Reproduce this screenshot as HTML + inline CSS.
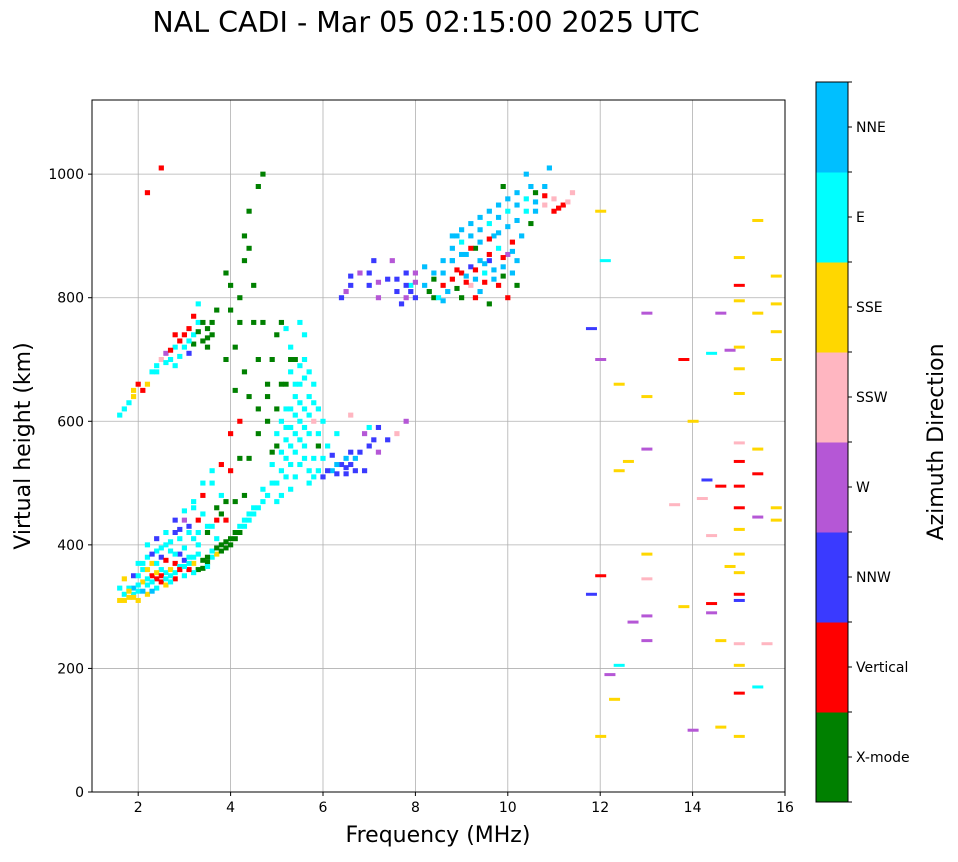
<!DOCTYPE html>
<html><head><meta charset="utf-8"><style>
body{margin:0;background:#fff;font-family:"Liberation Sans","DejaVu Sans",sans-serif}
svg text{font-family:"DejaVu Sans","Liberation Sans",sans-serif}
</style></head><body>
<svg id="c" width="958" height="857">
<text x="426" y="32" font-size="28.5" text-anchor="middle">NAL CADI - Mar 05 02:15:00 2025 UTC</text>
<g id="grid"></g><g id="marks"></g><g id="axes"></g><g id="cbar"></g>
</svg>
<script>
const dirNames=["X-mode","Vertical","NNW","W","SSW","SSE","E","NNE"];
const dirColors=["#008000","#ff0000","#3a3aff","#b557d6","#ffb6c1","#ffd700","#00ffff","#00bfff"];
const xTicks=[2,4,6,8,10,12,14,16];
const yTicks=[0,200,400,600,800,1000];
// dense cells [freq MHz, height km, direction index]
const cells=[
[1.6,310,5],[1.7,320,6],[1.8,315,5],[1.9,330,7],[2.0,325,6],[2.1,340,5],[2.2,335,6],[2.3,350,1],[2.4,345,1],[2.5,340,1],[2.6,355,6],[2.7,360,5],[2.8,370,1],[2.9,365,6],[3.0,375,2],[3.1,380,6],[3.2,370,5],[3.3,360,0],[3.4,362,0],[3.5,372,0],[3.6,380,6],[3.7,385,5],[3.8,390,0],[3.9,395,0],[4.0,400,0],[4.1,410,0],[4.2,420,0],[4.3,430,6],[4.4,440,6],[4.5,450,6],
[1.6,330,6],[1.7,345,5],[1.8,330,6],[1.9,350,2],[2.0,370,6],[2.1,360,6],[2.2,380,6],[2.3,370,5],[2.4,390,6],[2.5,380,2],[2.6,400,6],[2.7,390,6],[2.8,420,2],[2.9,410,6],[3.0,440,3],[3.1,420,6],[3.2,460,6],[3.3,440,1],[3.4,480,1],[3.5,430,6],[3.6,500,6],[3.7,460,0],[3.8,480,6],[3.9,440,1],[2.0,310,5],[2.2,320,5],[2.4,330,6],[2.6,335,5],[2.8,345,1],[3.0,350,6],[3.2,355,6],[1.9,320,6],[2.3,325,7],[2.7,340,6],[3.1,360,1],[3.5,365,6],[2.5,360,6],[2.9,385,2],[3.3,400,6],[3.7,410,6],[4.1,470,0],[4.3,480,0],[4.0,520,1],[4.2,540,0],
[1.7,310,5],[1.8,325,5],[1.9,315,5],[2.0,335,6],[2.1,325,7],[2.2,345,6],[2.3,340,6],[2.4,355,5],[2.5,350,1],[2.6,345,6],[2.7,350,6],[2.8,355,6],[2.9,360,1],[3.0,365,6],[3.1,370,6],[3.2,380,6],[3.3,385,6],[3.4,375,0],[3.5,380,0],[3.6,390,6],[3.7,395,0],[3.8,400,0],[3.9,405,0],[4.0,410,0],[4.1,420,0],[4.2,430,6],[4.3,440,6],[4.4,450,6],[4.5,460,6],
[2.0,350,6],[2.1,370,6],[2.2,360,5],[2.3,385,2],[2.4,370,6],[2.5,395,6],[2.6,375,1],[2.7,405,6],[2.8,385,6],[2.9,425,2],[3.0,395,6],[3.1,430,2],[3.2,410,6],[3.3,420,6],[3.4,450,6],[3.5,420,0],[3.6,430,6],[3.7,440,1],[3.8,450,0],[3.9,470,0],[2.2,400,6],[2.4,410,2],[2.6,420,6],[2.8,440,2],[3.0,455,6],[3.2,470,6],[3.4,500,6],[3.6,520,6],[3.8,530,1],
[4.6,460,6],[4.8,480,6],[5.0,500,6],[5.1,520,6],[5.2,540,6],[5.3,560,6],[5.4,580,6],[5.5,600,6],[5.6,620,6],[5.7,640,6],[5.5,660,6],[5.6,700,6],[5.3,620,6],[5.2,590,6],[5.0,560,0],[5.8,540,6],[5.9,520,6],[5.7,500,6],[5.4,510,6],[4.9,530,6],[5.1,480,6],[5.6,560,6],[5.5,530,6],[5.3,490,6],[4.7,470,6],[5.8,600,4],[5.9,580,6],[5.4,640,6],[5.2,660,0],[5.0,620,0],[4.8,600,0],[5.7,580,6],[5.6,740,6],[5.4,700,0],[5.1,760,0],[5.3,680,6],[5.9,560,0],
[4.7,490,6],[4.9,500,6],[5.0,470,6],[5.2,510,6],[5.3,530,6],[5.4,550,6],[5.5,570,6],[5.6,590,6],[5.7,610,6],[5.8,630,6],[5.5,630,6],[5.4,610,6],[5.3,590,6],[5.2,570,6],[5.1,550,6],[5.6,670,6],[5.7,680,6],[5.5,690,6],[5.8,660,6],[5.9,620,6],[6.0,600,6],[5.6,540,6],[5.7,520,6],[5.8,510,6],[6.0,540,6],[5.2,620,6],[5.1,600,6],[5.0,580,6],[5.4,660,6],[5.3,720,6],[5.5,760,6],[5.2,750,6],[4.9,550,0],[5.1,660,0],[5.3,700,0],[4.8,640,0],[4.9,700,0],[5.0,740,0],
[4.2,600,1],[4.4,640,0],[4.6,700,0],[4.7,760,0],[4.5,820,0],[4.3,900,0],[4.6,980,0],[4.4,940,0],[4.2,800,0],[4.1,720,0],[4.4,540,0],[4.6,580,0],[4.8,660,0],[4.0,780,0],[3.9,840,0],[4.7,1000,0],[4.3,860,0],[4.5,760,0],[4.1,650,0],[4.0,580,1],[4.3,680,0],[4.6,620,0],[4.2,760,0],[4.0,820,0],[4.4,880,0],
[1.6,610,6],[1.8,630,6],[1.9,650,5],[2.0,660,1],[2.1,650,1],[2.3,680,6],[2.4,690,6],[2.5,700,4],[2.6,710,3],[2.7,700,6],[2.8,720,6],[2.9,730,1],[3.0,720,6],[3.1,750,1],[3.2,740,6],[3.3,760,6],[3.4,730,0],[3.5,750,0],[3.6,740,0],[3.5,720,0],[3.3,790,6],[3.1,710,2],[2.8,690,6],[3.7,780,0],[3.9,700,0],[2.2,970,1],[2.5,1010,1],
[1.7,620,6],[1.9,640,5],[2.2,660,5],[2.4,680,6],[2.6,695,6],[2.7,715,1],[2.9,705,6],[3.0,740,1],[3.2,725,0],[3.3,745,0],[3.4,760,0],[3.5,735,0],[3.2,770,1],[3.1,730,6],[2.8,740,1],[3.6,760,0],
[6.0,510,2],[6.2,520,7],[6.4,530,2],[6.5,540,7],[6.6,530,2],[6.8,550,2],[7.0,560,2],[7.2,550,3],[7.4,570,2],[7.6,580,4],[7.8,600,3],[6.3,580,6],[6.6,610,4],[7.0,590,6],[6.2,545,2],[6.9,520,2],[7.2,590,2],[6.1,560,6],
[6.1,520,2],[6.3,515,2],[6.5,525,2],[6.7,540,7],[6.6,550,2],[6.5,515,2],[6.7,520,2],[6.3,530,7],[7.1,570,2],[6.9,580,3],
[6.4,800,2],[6.6,820,2],[6.8,840,3],[7.0,820,2],[7.2,800,3],[7.4,830,2],[7.6,810,2],[7.8,800,3],[7.9,820,6],[8.0,840,3],[7.7,790,2],[7.5,860,3],[7.1,860,2],[6.5,810,3],[8.0,800,2],
[6.6,835,2],[7.0,840,2],[7.2,825,3],[7.6,830,2],[7.8,820,2],[7.9,810,2],[8.0,825,3],[7.8,840,2],
[8.2,820,7],[8.4,830,0],[8.6,860,7],[8.8,880,7],[9.0,890,6],[9.2,900,7],[9.4,910,7],[9.6,920,6],[9.8,930,7],[10.0,940,6],[10.2,950,7],[10.4,960,6],[10.6,970,0],[10.8,980,7],[11.0,960,4],[11.2,950,1],[11.4,970,4],
[8.6,820,1],[8.8,830,1],[9.0,840,1],[9.2,850,2],[9.4,860,7],[9.6,870,1],[9.8,880,6],[10.0,870,3],[10.2,860,7],[9.0,800,0],[9.4,810,7],[9.8,820,1],[10.2,820,0],[8.4,800,0],[9.1,870,7],[9.5,840,6],[9.9,850,7],[10.3,900,7],[10.5,920,0],[10.1,890,1],[9.3,880,0],[8.9,900,7],[9.7,900,7],[10.6,940,7],[11.0,940,1],[10.8,950,4],[9.9,980,0],[10.4,1000,7],[9.6,860,2],[9.2,820,4],[8.8,860,7],[8.8,860,7],[8.2,850,7],[8.5,800,6],[10.0,800,1],[9.6,790,0],
[8.6,840,7],[8.9,845,1],[9.1,835,7],[9.3,845,1],[9.5,855,7],[9.7,845,7],[9.9,865,1],[10.1,875,7],[8.7,810,7],[8.9,815,0],[9.1,825,1],[9.3,830,7],[9.5,825,1],[9.7,830,7],[9.9,835,0],[10.1,840,7],[8.8,900,7],[9.0,910,7],[9.2,920,7],[9.4,930,7],[9.6,940,7],[9.8,950,7],[10.0,960,7],[10.2,970,7],[9.0,870,7],[9.2,880,1],[9.4,890,7],[9.6,895,1],[9.8,905,7],[10.0,915,7],[10.2,925,7],[10.4,940,6],[10.6,955,7],[10.8,965,1],[11.1,945,1],[11.3,955,4],[10.9,1010,7],[10.5,980,7],[8.4,840,7],[8.3,810,0],[8.6,795,7],[9.3,800,1]
];
// sparse horizontal segments [freq, height, dir]
const lines=[
[12.0,940,5],[12.1,860,6],[11.8,750,2],[12.0,700,3],[12.4,660,5],[13.0,775,3],[13.0,640,5],[13.0,555,3],[12.6,535,5],[12.4,520,5],[12.0,350,1],[11.8,320,2],[13.0,385,5],[13.0,345,4],[13.0,285,3],[13.0,245,3],[12.7,275,3],[12.4,205,6],[12.2,190,3],[12.3,150,5],[12.0,90,5],[13.8,700,1],[14.0,600,5],[14.4,710,6],[14.6,775,3],[14.3,505,2],[14.4,415,4],[14.6,495,1],[14.4,305,1],[14.4,290,3],[14.6,245,5],[14.6,105,5],[14.0,100,3],[13.8,300,5],[15.0,865,5],[15.0,820,1],[15.0,795,5],[14.8,715,3],[15.0,720,5],[15.0,685,5],[15.0,645,5],[15.0,565,4],[15.4,555,5],[15.0,535,1],[15.4,515,1],[15.0,495,1],[15.0,460,1],[15.0,425,5],[15.0,385,5],[15.0,355,5],[15.0,320,1],[15.0,310,2],[15.0,240,4],[15.0,205,5],[15.0,160,1],[15.0,90,5],[15.4,170,6],[15.6,240,4],[15.4,445,3],[15.8,460,5],[15.8,440,5],[15.8,700,5],[15.8,745,5],[15.8,790,5],[15.8,835,5],[15.4,775,5],[15.4,925,5],[14.8,365,5],[13.6,465,4],[14.2,475,4]
];
const ns="http://www.w3.org/2000/svg";
const X0=92,X1=785,Y0=792,YT=100,fMin=1,fMax=16,hMax=1120;
const xs=f=>X0+(f-fMin)/(fMax-fMin)*(X1-X0);
const ys=h=>Y0-h/hMax*(Y0-YT);
function mk(tag,attrs,parent){const e=document.createElementNS(ns,tag);for(const k in attrs)e.setAttribute(k,attrs[k]);parent.appendChild(e);return e;}
const G=document.getElementById('grid'),M=document.getElementById('marks'),A=document.getElementById('axes'),C=document.getElementById('cbar');
xTicks.forEach(t=>{const l=mk('line',{x1:xs(t),x2:xs(t),y1:YT,y2:Y0,stroke:'#b0b0b0','stroke-width':0.8},G);


mk('line',{x1:xs(t),x2:xs(t),y1:Y0,y2:Y0+4,stroke:'#000'},A);
const tx=mk('text',{x:xs(t),y:Y0+20,'font-size':14,'text-anchor':'middle'},A);tx.textContent=t;

});
yTicks.forEach(t=>{const l=mk('line',{x1:X0,x2:X1,y1:ys(t),y2:ys(t),stroke:'#b0b0b0','stroke-width':0.8},G);


mk('line',{x1:X0-4,x2:X0,y1:ys(t),y2:ys(t),stroke:'#000'},A);
const tx=mk('text',{x:X0-8,y:ys(t)+5,'font-size':14,'text-anchor':'end'},A);tx.textContent=t;

});
cells.forEach(([f,h,d])=>{const r=mk('rect',{x:xs(f)-2.6,y:ys(h)-2.5,width:5.2,height:5,fill:dirColors[d]},M);

});
lines.forEach(([f,h,d])=>{const r=mk('rect',{x:xs(f)-5,y:ys(h)-1.5,width:11,height:3,fill:dirColors[d]},M);

});
const fr=mk('rect',{x:X0,y:YT,width:X1-X0,height:Y0-YT,fill:'none',stroke:'#000','stroke-width':1},A);


let t1=mk('text',{x:438,y:842,'font-size':22,'text-anchor':'middle'},A);t1.textContent='Frequency (MHz)';


let t2=mk('text',{x:0,y:0,'font-size':22,'text-anchor':'middle',transform:'translate(30,446) rotate(-90)'},A);t2.textContent='Virtual height (km)';


const CB0=82,CB1=802,CBX=816,CBW=32,bh=(CB1-CB0)/dirNames.length;
dirNames.forEach((n,i)=>{const y=CB1-(i+1)*bh;
const r=mk('rect',{x:CBX,y:y,width:CBW,height:bh+0.5,fill:dirColors[i]},C);


mk('line',{x1:CBX+CBW,x2:CBX+CBW+4,y1:y+bh/2,y2:y+bh/2,stroke:'#000'},C);
mk('line',{x1:CBX+CBW-5,x2:CBX+CBW+4,y1:y,y2:y,stroke:'#000'},C);
const tx=mk('text',{x:CBX+CBW+8,y:y+bh/2+5,'font-size':14},C);tx.textContent=n;

});
mk('line',{x1:CBX+CBW-5,x2:CBX+CBW+4,y1:CB1,y2:CB1,stroke:'#000'},C);
mk('rect',{x:CBX,y:CB0,width:CBW,height:CB1-CB0,fill:'none',stroke:'#000'},C);
let t3=mk('text',{x:0,y:0,'font-size':22,'text-anchor':'middle',transform:'translate(943,442) rotate(-90)'},C);t3.textContent='Azimuth Direction';


</script>
</body></html>
